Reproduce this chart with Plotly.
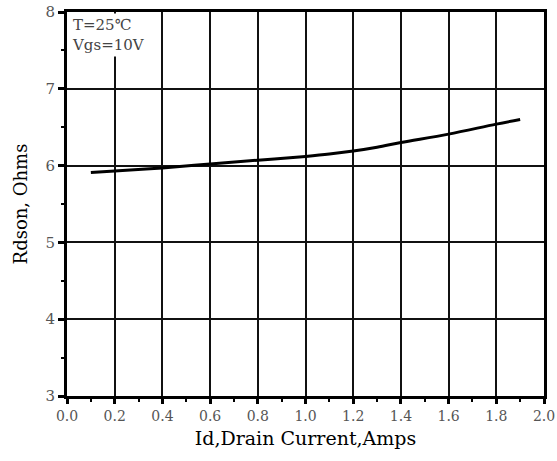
import plotly.graph_objects as go

id_amps = [0.1, 0.2, 0.4, 0.6, 0.8, 1.0, 1.1, 1.2, 1.3, 1.4, 1.6, 1.8, 1.9]
rdson = [5.91, 5.93, 5.97, 6.02, 6.07, 6.12, 6.15, 6.19, 6.24, 6.30, 6.41, 6.54, 6.60]

x_ticks = [0.0, 0.2, 0.4, 0.6, 0.8, 1.0, 1.2, 1.4, 1.6, 1.8, 2.0]
x_labels = ["0.0", "0.2", "0.4", "0.6", "0.8", "1.0", "1.2", "1.4", "1.6", "1.8", "2.0"]
y_ticks = [3, 4, 5, 6, 7, 8]

serif = "DejaVu Serif, Liberation Serif, serif"

fig = go.Figure()
fig.add_trace(go.Scatter(x=id_amps, y=rdson, mode="lines",
                         line=dict(color="black", width=3, shape="spline"),
                         showlegend=False))

fig.add_annotation(xref="paper", yref="paper", x=0.004, y=0.997,
                   xanchor="left", yanchor="top", align="left",
                   text="T=25℃<br>Vgs=10V", showarrow=False,
                   font=dict(family=serif, size=15, color="#444"),
                   bgcolor="white", borderpad=2)

fig.update_layout(
    width=557, height=461,
    margin=dict(l=67, r=13, t=12, b=65),
    plot_bgcolor="white", paper_bgcolor="white",
    font=dict(family=serif),
    xaxis=dict(range=[0, 2.0], tickvals=x_ticks, ticktext=x_labels,
               automargin=False,
               showgrid=True, gridcolor="#111", gridwidth=1.6,
               showline=True, linecolor="black", linewidth=3, mirror=True,
               ticks="outside", ticklen=5, tickwidth=3, tickcolor="black",
               minor=dict(dtick=0.1, ticks="outside", ticklen=3, tickwidth=2,
                          tickcolor="black", showgrid=False),
               tickfont=dict(size=14, color="#555"),
               title=dict(text="Id,Drain Current,Amps", standoff=9,
                          font=dict(size=19, color="black")),
               zeroline=False),
    yaxis=dict(range=[3, 8], tickvals=y_ticks,
               automargin=False,
               showgrid=True, gridcolor="#111", gridwidth=1.6,
               showline=True, linecolor="black", linewidth=3, mirror=True,
               ticks="outside", ticklen=6, tickwidth=3, tickcolor="black",
               minor=dict(dtick=0.5, ticks="outside", ticklen=3, tickwidth=2,
                          tickcolor="black", showgrid=False),
               tickfont=dict(size=15, color="#555"),
               title=dict(text="Rdson, Ohms", standoff=14,
                          font=dict(size=18, color="black")),
               zeroline=False),
)

fig.write_html("out.html")
